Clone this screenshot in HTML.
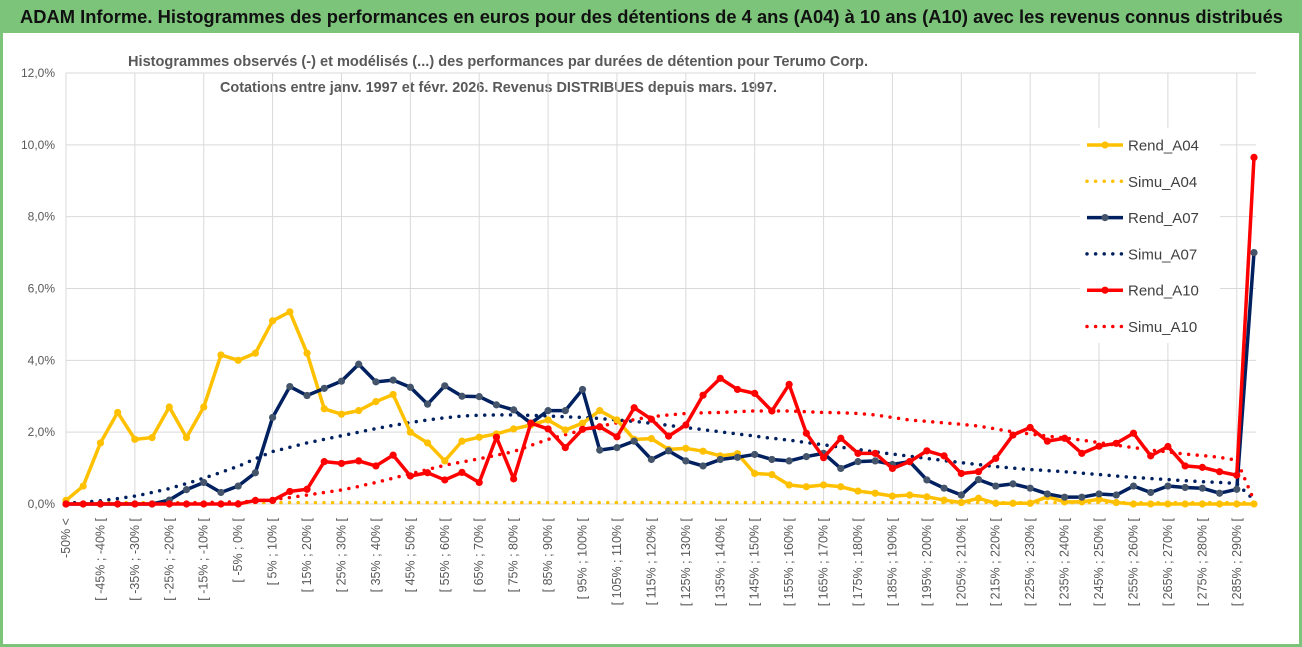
<!DOCTYPE html>
<html><head><meta charset="utf-8"><style>
html,body{margin:0;padding:0;background:#fff;}
svg{display:block;font-family:"Liberation Sans",sans-serif;}
</style></head><body>
<svg id="chart" width="1302" height="647" viewBox="0 0 1302 647" xmlns="http://www.w3.org/2000/svg">
<rect x="0" y="0" width="1302" height="647" fill="#7cc47a"/>
<rect x="3" y="33" width="1296" height="611" fill="#fff"/>
<text x="20" y="23" font-size="18" font-weight="bold" fill="#111" textLength="1263" lengthAdjust="spacingAndGlyphs">ADAM Informe. Histogrammes des performances en euros pour des détentions de 4 ans (A04) à 10 ans (A10) avec les revenus connus distribués</text>
<text x="128" y="66" font-size="15" font-weight="bold" fill="#595959" textLength="740" lengthAdjust="spacingAndGlyphs">Histogrammes observés (-) et modélisés (...) des performances par durées de détention pour Terumo Corp.</text>
<text x="220" y="92" font-size="15" font-weight="bold" fill="#595959" textLength="557" lengthAdjust="spacingAndGlyphs">Cotations entre janv. 1997 et févr. 2026. Revenus DISTRIBUES depuis mars. 1997.</text>
<g id="grid"></g><g id="axes"></g><g id="series"></g>
<g>
<rect x="1080" y="128" width="140" height="215" fill="#fff"/>
</g><g id="legend"></g>
</svg>
<script>
const categories = [];
const yTicks = [0,2,4,6,8,10,12];
const rendA04 = [0.1,0.5,1.7,2.55,1.8,1.85,2.7,1.85,2.7,4.15,4.0,4.2,5.1,5.35,4.2,2.65,2.5,2.6,2.85,3.05,2.0,1.7,1.2,1.75,1.86,1.95,2.09,2.2,2.34,2.06,2.25,2.6,2.34,1.8,1.82,1.52,1.55,1.47,1.34,1.4,0.85,0.82,0.53,0.48,0.53,0.48,0.36,0.3,0.22,0.25,0.2,0.11,0.04,0.16,0.02,0.02,0.02,0.2,0.06,0.06,0.13,0.04,0,0,0,0,0,0,0,0];
const rendA07 = [0,0,0,0,0,0,0.11,0.4,0.6,0.32,0.5,0.87,2.41,3.27,3.02,3.22,3.42,3.89,3.4,3.45,3.25,2.78,3.29,3.0,2.99,2.76,2.62,2.25,2.6,2.6,3.19,1.5,1.57,1.75,1.24,1.48,1.2,1.06,1.24,1.3,1.38,1.24,1.2,1.32,1.41,0.99,1.18,1.2,1.1,1.18,0.67,0.44,0.25,0.68,0.5,0.56,0.44,0.28,0.19,0.19,0.28,0.25,0.5,0.32,0.5,0.46,0.44,0.3,0.41,7.0];
const rendA10 = [0,0,0,0,0,0,0,0,0,0,0,0.1,0.1,0.35,0.41,1.18,1.13,1.2,1.06,1.36,0.78,0.87,0.67,0.88,0.6,1.86,0.7,2.25,2.09,1.57,2.08,2.15,1.87,2.68,2.36,1.89,2.2,3.03,3.5,3.19,3.08,2.59,3.33,1.97,1.29,1.83,1.41,1.41,0.99,1.18,1.48,1.34,0.85,0.9,1.27,1.92,2.13,1.75,1.83,1.41,1.61,1.69,1.97,1.34,1.6,1.06,1.02,0.9,0.8,9.65];
const simuA04 = [0.04,0.04,0.04,0.04,0.04,0.04,0.04,0.04,0.04,0.04,0.04,0.04,0.04,0.04,0.04,0.04,0.04,0.04,0.04,0.04,0.04,0.04,0.04,0.04,0.04,0.04,0.04,0.04,0.04,0.04,0.04,0.04,0.04,0.04,0.04,0.04,0.04,0.04,0.04,0.04,0.04,0.04,0.04,0.04,0.04,0.04,0.04,0.04,0.04,0.04,0.04,0.04,0.04,0.04,0.04,0.04,0.04,0.04,0.04,0.04,0.04,0.04,0.04,0.04,0.04,0.04,0.04,0.04,0.04,0.04];
const simuA07 = [0.02,0.05,0.09,0.15,0.22,0.32,0.43,0.57,0.72,0.88,1.05,1.26,1.46,1.58,1.7,1.8,1.9,2.0,2.1,2.19,2.27,2.34,2.4,2.45,2.47,2.48,2.48,2.47,2.45,2.43,2.41,2.38,2.34,2.3,2.25,2.19,2.13,2.07,2.01,1.95,1.89,1.83,1.78,1.71,1.65,1.58,1.52,1.45,1.39,1.33,1.27,1.21,1.15,1.1,1.04,1.0,0.96,0.93,0.9,0.86,0.82,0.78,0.74,0.71,0.68,0.65,0.62,0.6,0.57,0.11];
const simuA10 = [0,0,0,0.01,0.01,0.01,0.02,0.03,0.04,0.05,0.06,0.08,0.12,0.18,0.25,0.32,0.39,0.49,0.6,0.72,0.84,0.96,1.08,1.17,1.26,1.36,1.46,1.63,1.8,1.93,2.06,2.16,2.26,2.35,2.43,2.48,2.52,2.54,2.55,2.57,2.59,2.59,2.59,2.57,2.55,2.54,2.52,2.48,2.41,2.34,2.3,2.26,2.22,2.17,2.09,2.01,1.95,1.89,1.84,1.78,1.71,1.64,1.57,1.5,1.45,1.39,1.35,1.3,1.22,0.1];
categories.push("-50% <");
for (let a=-50; a<=290; a+=5) categories.push("[ "+a+"% ; "+(a+5)+"% [");

const NS="http://www.w3.org/2000/svg";
const x0=66, x1=1254, y0=504, yTop=73;
const xS = i => x0 + i*(x1-x0)/(categories.length-1);
const yS = v => y0 - v*(y0-yTop)/12;
function mk(tag, attrs, parent){const e=document.createElementNS(NS,tag);for(const k in attrs)e.setAttribute(k,attrs[k]);parent.appendChild(e);return e;}
const grid=document.getElementById('grid'), axes=document.getElementById('axes'), ser=document.getElementById('series'), leg=document.getElementById('legend');

yTicks.forEach(t=>{
  const l=mk('line',{x1:x0,x2:1256,y1:yS(t),y2:yS(t),stroke:'#d9d9d9','stroke-width':1},grid);
  
  
  const tx=mk('text',{x:55,y:yS(t)+4,'font-size':12,fill:'#595959','text-anchor':'end'},axes);
  tx.textContent=t.toFixed(1).replace('.',',')+'%';
  
  
});
categories.forEach((c,i)=>{
  if(i%4===0 && i<categories.length-1){
    const l=mk('line',{x1:xS(i),x2:xS(i),y1:yTop,y2:y0,stroke:'#d9d9d9','stroke-width':1},grid);
    
    
  }
  if(i%2===0 && i<categories.length-1){
    const x=xS(i)+4;
    const tx=mk('text',{x:x,y:518,'font-size':12.5,fill:'#595959','text-anchor':'end',transform:'rotate(-90 '+x+' 518)'},axes);
    tx.textContent=c;
    
    
  }
});

function drawLine(data,color,mcolor,name){
  const pts=data.map((v,i)=>xS(i)+','+yS(v)).join(' ');
  const p=mk('polyline',{points:pts,fill:'none',stroke:color,'stroke-width':3.5,'stroke-linejoin':'round'},ser);
  
  
  data.forEach((v,i)=>{
    const c=mk('circle',{cx:xS(i),cy:yS(v),r:3.6,fill:mcolor},ser);
    
    
  });
}
function drawDots(data,color,name){
  const pts=data.map((v,i)=>xS(i)+','+yS(v)).join(' ');
  const p=mk('polyline',{points:pts,fill:'none',stroke:color,'stroke-width':3.5,'stroke-linecap':'round','stroke-dasharray':'0 8.6'},ser);
  
  
}
drawDots(simuA04,'#FFC000','simu-a04');
drawDots(simuA07,'#002060','simu-a07');
drawDots(simuA10,'#FF0000','simu-a10');
drawLine(rendA04,'#FFC000','#FFC000','rend-a04');
drawLine(rendA07,'#002060','#44546A','rend-a07');
drawLine(rendA10,'#FF0000','#FF0000','rend-a10');

const legItems=[['Rend_A04','#FFC000','#FFC000',false],['Simu_A04','#FFC000',null,true],['Rend_A07','#002060','#44546A',false],['Simu_A07','#002060',null,true],['Rend_A10','#FF0000','#FF0000',false],['Simu_A10','#FF0000',null,true]];
legItems.forEach((it,k)=>{
  const y=145+k*36.3;
  const g=mk('g',{},leg);
  
  
  if(it[3]) mk('line',{x1:1087,x2:1123,y1:y,y2:y,stroke:it[1],'stroke-width':3.5,'stroke-linecap':'round','stroke-dasharray':'0 8.6'},g);
  else { mk('line',{x1:1087,x2:1123,y1:y,y2:y,stroke:it[1],'stroke-width':3.5},g); mk('circle',{cx:1105,cy:y,r:3.6,fill:it[2]},g); }
  const t=mk('text',{x:1128,y:y+5.5,'font-size':15,fill:'#404040'},g);
  t.textContent=it[0];
});
</script>
</body></html>
